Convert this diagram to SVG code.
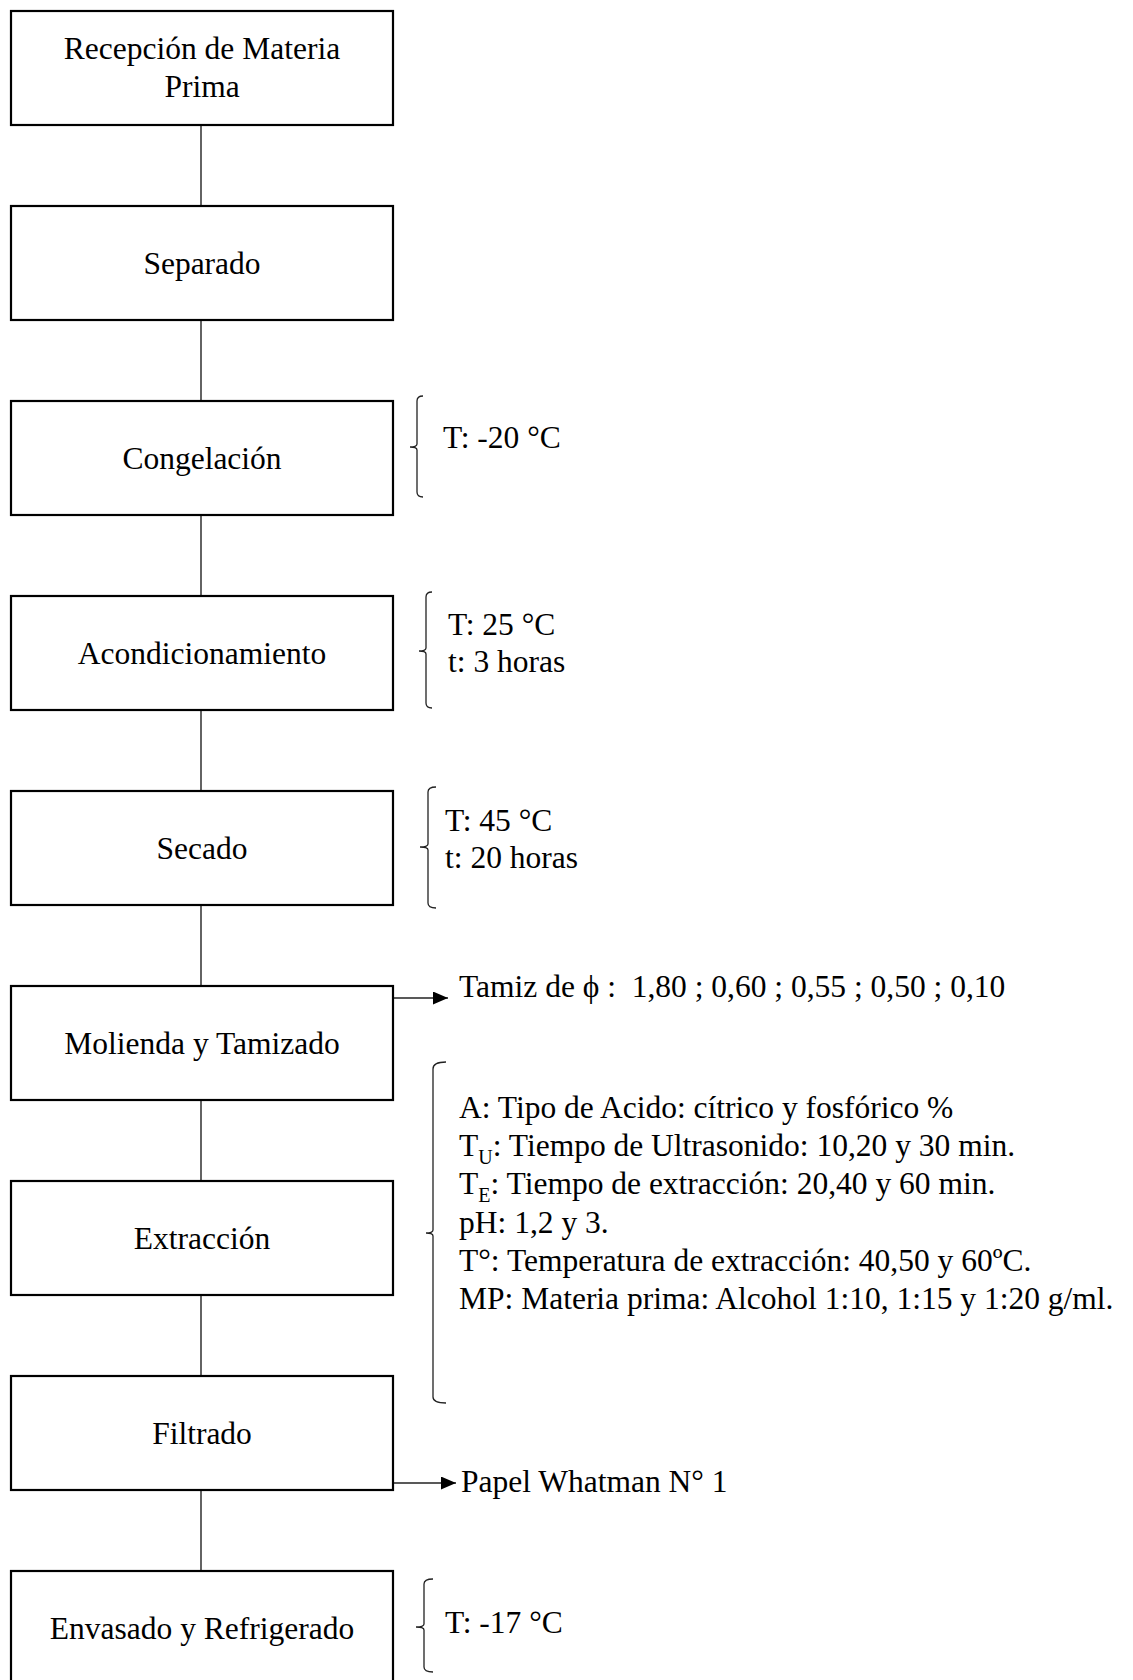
<svg xmlns="http://www.w3.org/2000/svg" width="1133" height="1680" viewBox="0 0 1133 1680">
<defs>
<style>
text{font-family:"Liberation Serif","Times New Roman",serif;font-size:31.5px;fill:#000;white-space:pre}
.lbl{text-anchor:middle}
.box{fill:#fff;stroke:#000;stroke-width:2.2}
.con{fill:none;stroke:#222;stroke-width:1.4}
.br{fill:none;stroke:#222;stroke-width:1.3}
.sub{font-size:20px}
</style>
<marker id="ah" markerWidth="16" markerHeight="14" refX="15" refY="6.5" orient="auto" markerUnits="userSpaceOnUse">
<path d="M0,0 L15,6.5 L0,13 Z" fill="#000"/>
</marker>
</defs>
<rect width="1133" height="1680" fill="#fff"/>
<g id="connectors">
<line class="con" x1="201" y1="125" x2="201" y2="206"/>
<line class="con" x1="201" y1="320" x2="201" y2="401"/>
<line class="con" x1="201" y1="515" x2="201" y2="596"/>
<line class="con" x1="201" y1="710" x2="201" y2="791"/>
<line class="con" x1="201" y1="905" x2="201" y2="986"/>
<line class="con" x1="201" y1="1100" x2="201" y2="1181"/>
<line class="con" x1="201" y1="1295" x2="201" y2="1376"/>
<line class="con" x1="201" y1="1490" x2="201" y2="1571"/>
<line class="con" x1="393" y1="998" x2="448" y2="998" marker-end="url(#ah)"/>
<line class="con" x1="393" y1="1483" x2="456" y2="1483" marker-end="url(#ah)"/>
</g>
<g id="n1"><rect class="box" x="11" y="11" width="382" height="114"/><text class="lbl" x="202" y="59">Recepción de Materia</text><text class="lbl" x="202" y="97">Prima</text></g>
<g id="n2"><rect class="box" x="11" y="206" width="382" height="114"/><text class="lbl" x="202" y="274">Separado</text></g>
<g id="n3"><rect class="box" x="11" y="401" width="382" height="114"/><text class="lbl" x="202" y="469">Congelación</text></g>
<g id="n4"><rect class="box" x="11" y="596" width="382" height="114"/><text class="lbl" x="202" y="664">Acondicionamiento</text></g>
<g id="n5"><rect class="box" x="11" y="791" width="382" height="114"/><text class="lbl" x="202" y="859">Secado</text></g>
<g id="n6"><rect class="box" x="11" y="986" width="382" height="114"/><text class="lbl" x="202" y="1054">Molienda y Tamizado</text></g>
<g id="n7"><rect class="box" x="11" y="1181" width="382" height="114"/><text class="lbl" x="202" y="1249">Extracción</text></g>
<g id="n8"><rect class="box" x="11" y="1376" width="382" height="114"/><text class="lbl" x="202" y="1444">Filtrado</text></g>
<g id="n9"><rect class="box" x="11" y="1571" width="382" height="114"/><text class="lbl" x="202" y="1639">Envasado y Refrigerado</text></g>
<g id="notes">
<path class="br" d="M423,396 Q417,396 417,401 L417,444 Q417,447 410,447 Q417,447 417,450 L417,492 Q417,497 423,497"/>
<text x="443" y="448">T: -20 °C</text>
<path class="br" d="M432,592 Q426,592 426,597 L426,648 Q426,651 419,651 Q426,651 426,654 L426,703 Q426,708 432,708"/>
<text x="448" y="635">T: 25 °C</text>
<text x="448" y="672">t: 3 horas</text>
<path class="br" d="M436,787 Q428,787 428,792 L428,844 Q428,847 420,847 Q428,847 428,850 L428,903 Q428,908 436,908"/>
<text x="445" y="831">T: 45 °C</text>
<text x="445" y="868">t: 20 horas</text>
<text x="459" y="997">Tamiz de ϕ :  1,80 ; 0,60 ; 0,55 ; 0,50 ; 0,10</text>
<path class="br" d="M446,1062 Q433,1062 433,1069 L433,1230 Q433,1233 426,1233 Q433,1233 433,1236 L433,1397 Q433,1403 446,1403"/>
<text x="459" y="1118">A: Tipo de Acido: cítrico y fosfórico %</text>
<text x="459" y="1156">T<tspan class="sub" dy="8">U</tspan><tspan dy="-8">: Tiempo de Ultrasonido: 10,20 y 30 min.</tspan></text>
<text x="459" y="1194">T<tspan class="sub" dy="8">E</tspan><tspan dy="-8">: Tiempo de extracción: 20,40 y 60 min.</tspan></text>
<text x="459" y="1233">pH: 1,2 y 3.</text>
<text x="459" y="1271">T°: Temperatura de extracción: 40,50 y 60ºC.</text>
<text x="459" y="1309">MP: Materia prima: Alcohol 1:10, 1:15 y 1:20 g/ml.</text>
<text x="461" y="1492">Papel Whatman N° 1</text>
<path class="br" d="M433,1579 Q424,1579 424,1584 L424,1624 Q424,1627 416,1627 Q424,1627 424,1630 L424,1667 Q424,1672 433,1672"/>
<text x="445" y="1633">T: -17 °C</text>
</g>
</svg>
